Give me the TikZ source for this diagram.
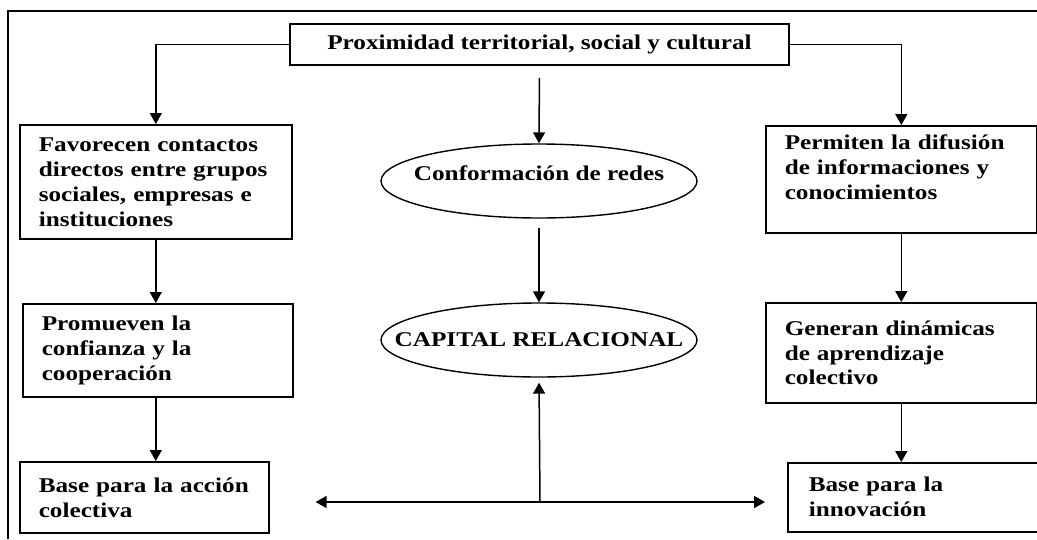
\documentclass[tikz,border=0pt]{standalone}
\usepackage{fontspec}
\setmainfont{Liberation Serif}[FakeStretch=1.2]
\usetikzlibrary{arrows.meta,shapes.geometric}

\tikzset{
  caja/.style={draw, line width=1.6pt, anchor=north west, align=left,
    inner xsep=19pt, inner ysep=0pt},
  oval/.style={draw, ellipse, line width=1.4pt, minimum width=316pt,
    minimum height=74pt, inner sep=0pt},
  flecha/.style={line width=1.5pt, -{Triangle[length=11pt,width=12pt]}},
}

\begin{document}
\begin{tikzpicture}[x=1pt,y=-1pt,font=\bfseries\fontsize{21}{25}\selectfont]
    \useasboundingbox (0,0) rectangle (1037,539);
    % marco exterior
    \draw[line width=1.6pt] (8,539) |- (1037,11);

    \node[draw, line width=1.6pt, minimum width=499pt, minimum height=41pt, inner ysep=0pt]
      (prox) at (539.5,44.5) {Proximidad territorial, social y cultural};

    % columna izquierda
    \node[caja, text width=234pt, minimum height=114pt] (fav) at (19,124)
      {Favorecen contactos\\directos entre grupos\\sociales, empresas e\\instituciones};
    \node[caja, text width=232pt, minimum height=93pt] (prom) at (22,303)
      {Promueven la\\confianza y la\\cooperación};
    \node[caja, text width=211pt, minimum height=71pt] (acc) at (19,461)
      {Base para la acción\\colectiva};

    % columna derecha
    \node[caja, text width=233pt, minimum height=107pt] (perm) at (765,125)
      {Permiten la difusión\\de informaciones y\\conocimientos\\\mbox{}};
    \node[caja, text width=233pt, minimum height=100pt] (gen) at (765,302)
      {Generan dinámicas\\de aprendizaje\\colectivo};
    \node[caja, text width=211pt, minimum height=69pt, inner xsep=21pt] (inn) at (787,462)
      {Base para la\\innovación};

    % centro
    \node[oval] (conf) at (539,181) {\makebox[0pt]{\raisebox{16pt}{Conformación de redes}}};
    \node[oval] (cap) at (539,340) {\makebox[0pt]{CAPITAL RELACIONAL}};
    \coordinate (hub) at (540,502);

    \draw[flecha] (prox.west) -| (fav.north);
    \draw[flecha] (prox.east) -| (perm.north);
    \draw[flecha, shorten <=12pt] (prox.south) -- (conf.north);
    \draw[flecha, shorten <=9pt] (conf.south) -- (cap.north);
    \draw[flecha] (fav.south) -- (fav.south |- prom.north);
    \draw[flecha] (fav.south |- prom.south) -- (fav.south |- acc.north);
    \draw[flecha] (perm.south) -- (gen.north);
    \draw[flecha] (gen.south) -- (gen.south |- inn.north);
    \draw[flecha, shorten >=5pt] (hub) -- (cap.south);
    \draw[line width=1.5pt, {Triangle[length=11pt,width=12pt]}-{Triangle[length=11pt,width=12pt]},
      shorten <=46pt, shorten >=22pt] (hub -| acc.east) -- (hub -| inn.west);
\end{tikzpicture}
\end{document}
